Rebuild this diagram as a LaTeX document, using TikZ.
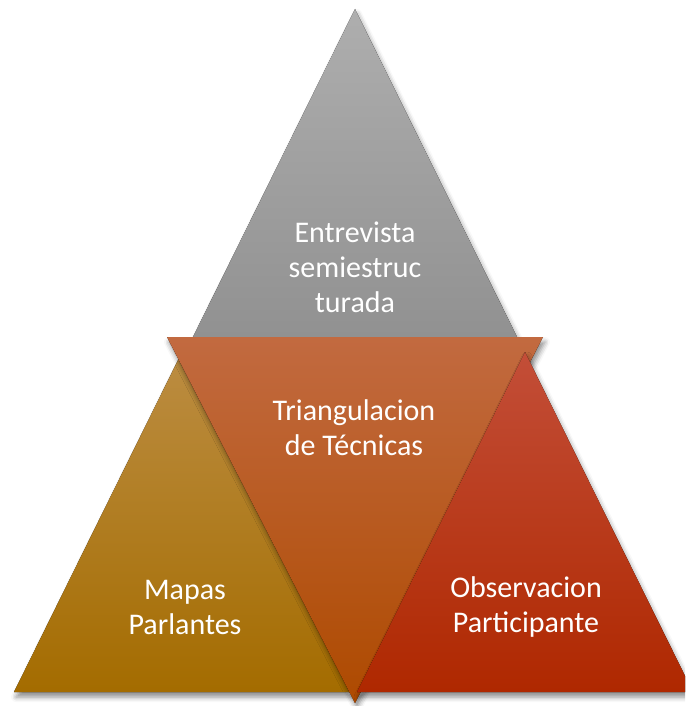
\documentclass[tikz,border=0pt]{standalone}
\usepackage{fontspec}
\setmainfont{Carlito}
\usetikzlibrary{shadows.blur}
\begin{document}
\begin{tikzpicture}[x=1pt,y=-1pt,
  lbl/.style={text=white, font=\fontsize{30}{35}\selectfont, align=center, inner sep=0pt},
  shd/.style={blur shadow={shadow xshift=2pt, shadow yshift=-5pt, shadow blur radius=5pt, shadow opacity=45}}]
\useasboundingbox (0,0) rectangle (685,706);
\clip (0,0) rectangle (685,706);
% corners
\coordinate (gA) at (355,9);
\coordinate (gL) at (187,349);
\coordinate (gR) at (523,349);
\coordinate (mA) at (182,352);
\coordinate (mL) at (14,692);
\coordinate (mR) at (350,692);
\coordinate (oA) at (525,352);
\coordinate (oL) at (357,692);
\coordinate (oR) at (693,692);
\coordinate (tL) at (167,337);
\coordinate (tR) at (543,337);
\coordinate (tB) at (355,703);
% triangles
\fill[shd, top color={rgb,255:red,174;green,174;blue,174}, bottom color={rgb,255:red,144;green,144;blue,144}] (gA) -- (gL) -- (gR) -- cycle;
\fill[shd, top color={rgb,255:red,188;green,141;blue,66}, bottom color={rgb,255:red,164;green,108;blue,0}] (mA) -- (mL) -- (mR) -- cycle;
\fill[shd, top color={rgb,255:red,194;green,106;blue,64}, bottom color={rgb,255:red,174;green,74;blue,0}] (tL) -- (tR) -- (tB) -- cycle;
\fill[shd, top color={rgb,255:red,195;green,78;blue,56}, bottom color={rgb,255:red,175;green,40;blue,0}] (oA) -- (oL) -- (oR) -- cycle;
% labels
\node[lbl] (ent) at (355,267) {Entrevista\\semiestruc\\turada};
\node[lbl] (tri) at (354,428) {Triangulacion\\de Técnicas};
\node[lbl] (map) at (185,607) {Mapas\\Parlantes};
\node[lbl] (obs) at (526,607) {Observacion\\Participante};
\end{tikzpicture}
\end{document}
